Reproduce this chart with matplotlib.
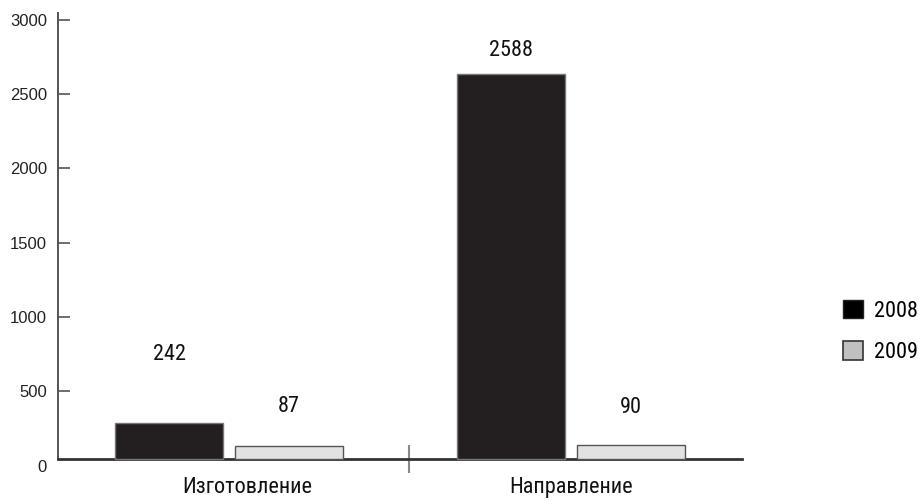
import matplotlib
matplotlib.use("Agg")
import matplotlib.pyplot as plt
from matplotlib import font_manager as fm
from matplotlib.patches import Patch
from matplotlib.transforms import ScaledTranslation
import numpy as np

# Данные
categories = ["Изготовление", "Направление"]
years = ["2008", "2009"]
values_2008 = [242, 2588]
values_2009 = [87, 90]
yticks = [0, 500, 1000, 1500, 2000, 2500, 3000]

# смещения подписей над столбцами, px
label_gap_2008 = [68, 23]
label_gap_2009 = [39, 38]

base = 46  # ось X нарисована чуть выше нуля


def narrow_font(size):
    # ищем узкий шрифт среди установленных
    for fam in ["Liberation Sans Narrow", "Roboto Condensed", "Open Sans Condensed",
                "DejaVu Sans Condensed", "Noto Sans Condensed"]:
        if any(f.name == fam for f in fm.fontManager.ttflist):
            return fm.FontProperties(family=fam, size=size)
    for fam in ["Roboto", "Noto Sans", "Open Sans", "DejaVu Sans"]:
        for f in fm.fontManager.ttflist:
            if f.name == fam and f.stretch in ("condensed", "semi-condensed", "extra-condensed"):
                return fm.FontProperties(fname=f.fname, size=size)
    return fm.FontProperties(family="Roboto", size=size * 0.9)


fp = narrow_font(16)

fig = plt.figure(figsize=(9.2, 5), dpi=100)
ax = fig.add_axes([58 / 920, 0.0688, 684 / 920, 0.9052])
ax.set_xlim(0, 2)
ax.set_ylim(0, 3044)

x = np.arange(len(categories)) + 0.5
w = 0.316
off = 0.175

b1 = ax.bar(x - off, values_2008, w, bottom=base, color="#231f20",
            edgecolor="#777777", linewidth=1, zorder=3)
b2 = ax.bar(x + off, values_2009, w, bottom=base, color="#e2e2e2",
            edgecolor="#555555", linewidth=1, zorder=3)

for bars, vals, gaps in [(b1, values_2008, label_gap_2008), (b2, values_2009, label_gap_2009)]:
    for rect, v, g in zip(bars, vals, gaps):
        ax.annotate(str(v), (rect.get_x() + rect.get_width() / 2, base + v),
                    xytext=(0, g * 0.72), textcoords="offset points",
                    ha="center", va="center", fontproperties=fp, color="#111111")

# оси
for s in ["top", "right"]:
    ax.spines[s].set_visible(False)
ax.spines["left"].set_bounds(base, 3044)
ax.spines["left"].set_color("#555555")
ax.spines["left"].set_linewidth(1.4)
ax.spines["bottom"].set_position(("data", base))
ax.spines["bottom"].set_color("#333333")
ax.spines["bottom"].set_linewidth(2)

ax.set_yticks(yticks)
ax.set_yticklabels([str(t) for t in yticks], family=["Liberation Sans", "DejaVu Sans"],
                   fontsize=12, color="#222222")
ax.tick_params(axis="y", direction="in", length=8.6, width=1.2, color="#555555", pad=8)
ax.yaxis.get_major_ticks()[0].tick1line.set_visible(False)

ax.set_xticks(x)
ax.set_xticklabels(categories, fontproperties=fp, color="#111111")
ax.tick_params(axis="x", length=0, pad=13)
ax.set_xticks([1.026], minor=True)
ax.tick_params(axis="x", which="minor", direction="inout", length=20, width=1.5,
               color="#888888")
lbl = ax.get_xticklabels()[0]
lbl.set_transform(lbl.get_transform() + ScaledTranslation(18 / 100, 0, fig.dpi_scale_trans))

handles = [Patch(facecolor="#000000", edgecolor="#222222", linewidth=1),
           Patch(facecolor="#c0c0c0", edgecolor="#333333", linewidth=1.2)]
fig.legend(handles, years, loc="upper left", bbox_to_anchor=(843 / 920, 1 - 300 / 500),
           frameon=False, borderpad=0, borderaxespad=0, handlelength=0.9,
           handleheight=0.9, handletextpad=0.5, labelspacing=0.88, prop=fp)

fig.savefig("out.png", dpi=100)
